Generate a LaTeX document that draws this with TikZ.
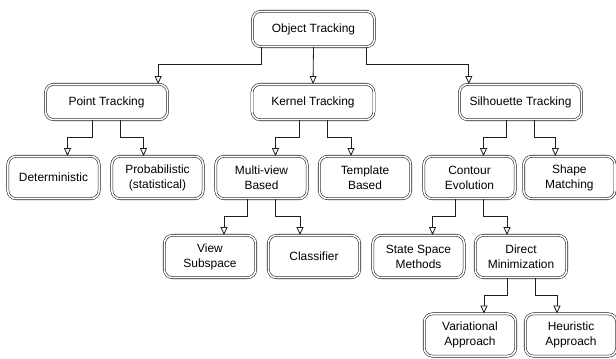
\documentclass[tikz,border=0pt]{standalone}
\usepackage{fontspec}
\setmainfont{Liberation Sans}
\usepackage{tikz}
\usetikzlibrary{arrows.meta, positioning, calc}
\definecolor{boxline}{RGB}{30, 30, 30}

\tikzset{
  tbox/.style={draw=boxline, double=white, double distance=1.3pt, line width=0.5pt,
    rounded corners=7pt, align=center, inner sep=2pt,
    font=\fontsize{10.2}{12.8}\selectfont},
  topbox/.style={tbox, minimum width=3.66cm, minimum height=1.06cm},
  leafbox/.style={tbox, minimum width=2.74cm, minimum height=1.27cm},
  arr/.style={-{Triangle[open, length=2.4mm, width=2.1mm]}, line width=0.7pt, draw=boxline},
  elbow/.style={to path={(\tikztostart) -- ++(0,-0.51) -| (\tikztotarget)}}
}

\begin{document}
\begin{tikzpicture}
  \useasboundingbox (0, 0) rectangle (18.48, -10.74);

  % Root
  \node[topbox] (obj) at (9.405, -0.87) {Object Tracking};

  % Main categories
  \node[topbox] (point) at (3.195, -3.06) {Point Tracking};
  \node[topbox] (kernel) at (9.39, -3.06) {Kernel Tracking};
  \node[topbox] (silh) at (15.615, -3.06) {Silhouette Tracking};

  \draw[arr] ([xshift=-1.55cm]obj.south) to[elbow] ([xshift=1.55cm]point.north);
  \draw[arr] (obj.south) -- (kernel.north);
  \draw[arr] ([xshift=1.6cm]obj.south) to[elbow] ([xshift=-1.55cm]silh.north);

  % Third level
  \node[leafbox] (det) at (1.605, -5.325) {Deterministic};
  \node[leafbox] (prob) at (4.725, -5.325) {Probabilistic\\(statistical)};
  \node[leafbox] (multi) at (7.845, -5.325) {Multi-view\\Based};
  \node[leafbox] (templ) at (10.95, -5.325) {Template\\Based};
  \node[leafbox] (contour) at (14.085, -5.325) {Contour\\Evolution};
  \node[leafbox] (shape) at (17.08, -5.325) {Shape\\Matching};

  \draw[arr] ([xshift=-0.42cm]point.south) to[elbow] ([xshift=0.42cm]det.north);
  \draw[arr] ([xshift=0.42cm]point.south) to[elbow] ([xshift=-0.42cm]prob.north);
  \draw[arr] ([xshift=-0.42cm]kernel.south) to[elbow] ([xshift=0.42cm]multi.north);
  \draw[arr] ([xshift=0.42cm]kernel.south) to[elbow] ([xshift=-0.42cm]templ.north);
  \draw[arr] ([xshift=-0.42cm]silh.south) to[elbow] ([xshift=0.42cm]contour.north);
  \draw[arr] ([xshift=0.42cm]silh.south) to[elbow] ([xshift=-0.42cm]shape.north);

  % Fourth level
  \node[leafbox] (view) at (6.3, -7.695) {View\\Subspace};
  \node[leafbox] (classif) at (9.42, -7.695) {Classifier};
  \node[leafbox] (state) at (12.555, -7.695) {State Space\\Methods};
  \node[leafbox] (direct) at (15.63, -7.695) {Direct\\Minimization};

  \draw[arr] ([xshift=-0.42cm]multi.south) to[elbow] ([xshift=0.42cm]view.north);
  \draw[arr] ([xshift=0.42cm]multi.south) to[elbow] ([xshift=-0.42cm]classif.north);
  \draw[arr] ([xshift=-0.42cm]contour.south) to[elbow] ([xshift=0.42cm]state.north);
  \draw[arr] ([xshift=0.42cm]contour.south) to[elbow] ([xshift=-0.42cm]direct.north);

  % Direct minimization
  \node[leafbox] (variat) at (14.1, -10.05) {Variational\\Approach};
  \node[leafbox] (heur) at (17.13, -10.05) {Heuristic\\Approach};

  \draw[arr] ([xshift=-0.42cm]direct.south) to[elbow] ([xshift=0.42cm]variat.north);
  \draw[arr] ([xshift=0.42cm]direct.south) to[elbow] ([xshift=-0.42cm]heur.north);
\end{tikzpicture}
\end{document}
